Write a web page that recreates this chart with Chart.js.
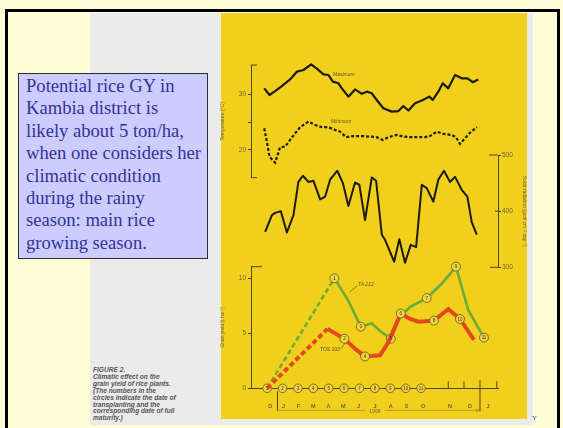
<!DOCTYPE html>
<html>
<head>
<meta charset="utf-8">
<script src="https://cdn.jsdelivr.net/npm/chart.js@4.4.1/dist/chart.umd.min.js"></script>
<style>
  body { margin: 0; width: 563px; height: 428px; background: #FFFFD7; position: relative; overflow: hidden; }
  #frame { position: absolute; left: 5px; top: 9px; width: 549px; height: 440px; border: 3px solid #000; }
  #scan { position: absolute; left: 90px; top: 13px; width: 443px; height: 412px; background: #EBEBEB; }
  #plate { position: absolute; left: 221px; top: 13px; width: 306px; height: 406px; background: #F0D01A; }
  canvas { position: absolute; }
  #note {
    position: absolute; left: 18px; top: 73px; width: 181px; height: 177px;
    padding: 1px 0 6px 7px; background: #CCCCFF; border: 1px solid #2e2e2e;
    font-family: "Liberation Serif", "Times New Roman", serif; font-size: 18.6px; line-height: 22.4px;
    color: #333399; white-space: nowrap;
  }
  #caption {
    position: absolute; left: 93px; top: 367px;
    font-family: "Liberation Sans", Arial, sans-serif; font-size: 6.6px; line-height: 6.9px;
    font-weight: bold; font-style: italic; color: #555; white-space: nowrap;
  }
  #mark { position: absolute; left: 532px; top: 414px; font-family: "Liberation Serif", serif; font-size: 7px; color: #2255CC; }
</style>
</head>
<body>
<div id="frame"></div>
<div id="scan"></div>
<div id="plate"></div>
<canvas id="tempChart" width="300" height="135" style="left:220px; top:50px"></canvas>
<canvas id="solarChart" width="307" height="130" style="left:220px; top:145px"></canvas>
<canvas id="yieldChart" width="300" height="170" style="left:220px; top:255px"></canvas>
<div id="note">Potential rice GY in<br>Kambia district is<br>likely about 5 ton/ha,<br>when one considers her<br>climatic condition<br>during the rainy<br>season: main rice<br>growing season.</div>
<div id="caption">FIGURE 2.<br>Climatic effect on the<br>grain yield of rice plants.<br>(The numbers in the<br>circles indicate the date of<br>transplanting and the<br>corresponding date of full<br>maturity.)</div>
<div id="mark">Y</div>
<script>
// months counted from December 1967 (= 0)
const maxTempMonths = [-0.19, 0.15, 0.52, 0.95, 1.49, 1.93, 2.36, 2.86, 3.33, 3.66, 3.98, 4.27, 4.63, 4.85, 5.28, 5.71, 6.15, 6.47, 6.80, 7.12, 7.55, 8.10, 8.53, 8.85, 9.18, 9.61, 10.05, 10.54, 10.76, 11.12, 11.41, 11.77, 12.21, 12.64, 13.01, 13.36, 13.72];
const maxTemp = [31.1, 29.9, 30.6, 31.5, 32.7, 34.1, 34.4, 35.4, 34.4, 33.6, 33.5, 32.3, 32.0, 31.1, 29.6, 30.9, 30.1, 30.5, 30.2, 29.0, 27.5, 26.9, 27.0, 27.9, 27.1, 28.4, 28.9, 29.6, 29.0, 30.5, 32.0, 31.1, 33.5, 32.9, 32.9, 32.2, 32.7];

const minTempMonths = [-0.19, -0.02, 0.15, 0.52, 0.84, 1.17, 1.49, 1.82, 2.14, 2.68, 3.12, 3.55, 3.98, 4.42, 4.74, 5.13, 5.60, 6.15, 6.69, 7.12, 7.51, 7.88, 8.42, 8.85, 9.29, 9.72, 10.26, 10.58, 11.02, 11.45, 11.99, 12.27, 12.53, 12.86, 13.18, 13.62];
const minTemp = [23.9, 21.5, 18.8, 17.7, 20.5, 20.6, 21.8, 23.0, 24.1, 25.1, 24.5, 24.1, 24.1, 23.6, 23.3, 22.3, 22.5, 22.5, 22.4, 22.3, 21.8, 22.3, 22.7, 22.4, 22.3, 22.3, 22.3, 22.5, 23.3, 22.9, 22.7, 22.3, 21.1, 22.1, 23.1, 24.1];

const solarMonths = [-0.13, 0.31, 0.52, 0.89, 1.28, 1.71, 2.03, 2.32, 2.68, 3.01, 3.44, 3.77, 4.09, 4.56, 4.92, 5.28, 5.71, 5.99, 6.36, 6.80, 7.08, 7.45, 7.66, 8.25, 8.59, 8.96, 9.33, 9.68, 10.05, 10.37, 10.80, 11.12, 11.49, 11.88, 12.21, 12.64, 13.01, 13.29, 13.62];
const solar = [363, 393, 397, 400, 362, 393, 452, 463, 452, 454, 421, 426, 456, 472, 450, 409, 451, 447, 384, 460, 454, 358, 349, 310, 350, 308, 340, 336, 447, 441, 417, 456, 472, 452, 461, 438, 426, 381, 358];

const ta212Months = [0, 4.37, 5.26, 6.08, 6.80, 7.34, 8.03, 8.64, 9.29, 10.37, 11.34, 12.27, 13.07, 14.09];
const ta212Yield = [0, 10.0, 8.0, 5.6, 5.9, 5.2, 4.5, 6.5, 7.4, 8.2, 9.5, 11.05, 7.1, 4.6];
const ta212Tags = [null, 1, null, 3, null, null, 5, null, null, 7, null, 9, null, 11];

const tos103Months = [0, 3.92, 5.02, 5.71, 6.36, 7.34, 7.88, 8.68, 9.29, 9.82, 10.84, 11.77, 12.53, 13.44];
const tos103Yield = [0, 5.4, 4.5, 3.6, 2.9, 3.0, 4.2, 6.8, 6.3, 6.05, 6.15, 7.2, 6.3, 4.4];
const tos103Tags = [null, null, 2, null, 4, null, null, 6, null, null, 8, null, 10, null];

const transplantMonths = [0, 1, 2, 3, 4, 5, 6, 7, 8, 9, 10];
const transplantTags = [1, 2, 3, 4, 5, 6, 7, 8, 9, 10, 11];

const monthTicks = [0.2, 1.06, 2.03, 3.0, 3.98, 4.95, 5.93, 7.01, 8.03, 9.06, 10.13, 11.88, 13.18, 14.35];
const monthLabels = ['D', 'J', 'F', 'M', 'A', 'M', 'J', 'J', 'A', 'S', 'O', 'N', 'D', 'J'];
const yearBoundMonths = [0.67, 13.83];
const yearTickMonths = [11.77, 12.79, 14.92];

const tempTicks = [20, 25, 30];
const solarTicks = [300, 400, 500];
const yieldTicks = [0, 5, 10];

const inkColor = '#1c1a12';
const axisColor = '#4a4530';
const tickColor = '#6e6440';
const xRange = { min: -1.05, max: 15 };

const pts = (xs, ys) => xs.map((x, i) => ({ x: x, y: ys[i] }));

// brackets, small notes, numbers in circles and the year marks under the months
const figureMarks = {
  id: 'figureMarks',
  afterDatasetsDraw(chart, args, opts) {
    const { ctx, scales: { x, y } } = chart;
    ctx.save();
    ctx.strokeStyle = axisColor;
    ctx.lineWidth = 1;
    const edge = y.position === 'left' ? y.right : y.left;
    const dir = y.position === 'left' ? 1 : -1;
    (opts.caps || []).forEach(c => {
      const py = c.at === 'top' ? y.top : y.bottom;
      ctx.beginPath();
      ctx.moveTo(edge, py);
      ctx.lineTo(edge + dir * c.len, py);
      ctx.stroke();
    });
    (opts.inTicks || []).forEach(v => {
      const py = y.getPixelForValue(v);
      ctx.beginPath();
      ctx.moveTo(edge, py);
      ctx.lineTo(edge + dir * 3, py);
      ctx.stroke();
    });

    ctx.font = 'italic 5px "Liberation Sans", Arial, sans-serif';
    ctx.fillStyle = '#5a5030';
    ctx.textBaseline = 'middle';
    ctx.textAlign = 'left';
    (opts.notes || []).forEach(n => {
      const px = x.getPixelForValue(n.x), py = y.getPixelForValue(n.y);
      ctx.fillText(n.text, px, py);
      if (n.lead) {
        ctx.strokeStyle = '#5a5030';
        ctx.lineWidth = 0.7;
        ctx.beginPath();
        ctx.moveTo(x.getPixelForValue(n.lead[0]), y.getPixelForValue(n.lead[1]));
        ctx.lineTo(x.getPixelForValue(n.lead[2]), y.getPixelForValue(n.lead[3]));
        ctx.stroke();
      }
    });

    ctx.font = '4.5px "Liberation Sans", Arial, sans-serif';
    ctx.fillStyle = '#3a3626';
    ctx.textAlign = 'center';
    chart.data.datasets.forEach((ds, i) => {
      if (!ds.tags) return;
      chart.getDatasetMeta(i).data.forEach((pt, j) => {
        if (ds.tags[j] == null) return;
        ctx.fillText(String(ds.tags[j]), pt.x, pt.y + 0.3);
      });
    });

    if (opts.year) {
      const base = y.bottom;
      ctx.strokeStyle = axisColor;
      ctx.lineWidth = 1;
      opts.year.ticks.forEach(m => {
        const px = x.getPixelForValue(m);
        ctx.beginPath(); ctx.moveTo(px, base); ctx.lineTo(px, base - 7); ctx.stroke();
      });
      opts.year.bounds.forEach((m, k) => {
        const px = x.getPixelForValue(m);
        ctx.beginPath(); ctx.moveTo(px, k === 0 ? base + 3 : base - 8); ctx.lineTo(px, base + 23); ctx.stroke();
      });
      const x0 = x.getPixelForValue(opts.year.bounds[0]);
      const x1 = x.getPixelForValue(opts.year.bounds[1]);
      const xm = x.getPixelForValue(opts.year.at);
      const ly = base + 22;
      ctx.strokeStyle = '#8a7c40';
      ctx.lineWidth = 0.6;
      ctx.beginPath();
      ctx.moveTo(x0, ly); ctx.lineTo(xm - 10, ly);
      ctx.moveTo(xm + 10, ly); ctx.lineTo(x1, ly);
      ctx.moveTo(x1 - 4, ly - 1.5); ctx.lineTo(x1, ly); ctx.lineTo(x1 - 4, ly + 1.5);
      ctx.stroke();
      ctx.font = '5px "Liberation Sans", Arial, sans-serif';
      ctx.fillStyle = tickColor;
      ctx.fillText(opts.year.label, xm, ly + 1);
    }
    ctx.restore();
  }
};

const fixedWidth = w => s => { s.width = w; };
const tickList = list => s => { s.ticks = list.map(v => ({ value: v })); };
const smallFont = { family: '"Liberation Sans", Arial, sans-serif', size: 6.5 };
const titleFont = { family: '"Liberation Sans", Arial, sans-serif', size: 5 };

// Temperature: maximum (solid) and minimum (dashed)
new Chart(document.getElementById('tempChart'), {
  type: 'line',
  data: {
    datasets: [
      { data: pts(maxTempMonths, maxTemp), borderColor: inkColor, borderWidth: 2.2, pointRadius: 0, borderJoinStyle: 'round' },
      { data: pts(minTempMonths, minTemp), borderColor: inkColor, borderWidth: 2.2, borderDash: [3, 2], pointRadius: 0 }
    ]
  },
  options: {
    responsive: false, animation: false, events: [], clip: false,
    layout: { padding: { top: 15, bottom: 7.3, right: 22, left: 0 } },
    plugins: {
      legend: { display: false }, tooltip: { enabled: false },
      figureMarks: {
        caps: [{ at: 'top', len: 6 }, { at: 'bottom', len: 6 }],
        notes: [{ text: 'Maximum', x: 4.28, y: 33.6 }, { text: 'Minimum', x: 4.15, y: 25.1 }]
      }
    },
    scales: {
      x: { type: 'linear', display: false, min: xRange.min, max: xRange.max },
      y: {
        min: 15, max: 35.3,
        afterBuildTicks: tickList(tempTicks), afterFit: fixedWidth(31),
        ticks: { callback: v => (v === 25 ? '' : v), font: smallFont, color: tickColor, padding: 2 },
        grid: { drawOnChartArea: false, tickLength: 3, color: axisColor },
        border: { color: axisColor, width: 1 },
        title: { display: true, text: 'Temperature (°C)', font: titleFont, color: tickColor, padding: 0 }
      }
    }
  },
  plugins: [figureMarks]
});

// Solar radiation
new Chart(document.getElementById('solarChart'), {
  type: 'line',
  data: {
    datasets: [
      { data: pts(solarMonths, solar), borderColor: inkColor, borderWidth: 2, pointRadius: 0, borderJoinStyle: 'round' }
    ]
  },
  options: {
    responsive: false, animation: false, events: [], clip: false,
    layout: { padding: { top: 10, bottom: 7.7, right: 0, left: 31 } },
    plugins: {
      legend: { display: false }, tooltip: { enabled: false },
      figureMarks: { caps: [{ at: 'top', len: 9 }, { at: 'bottom', len: 8 }], inTicks: [400] }
    },
    scales: {
      x: { type: 'linear', display: false, min: xRange.min, max: xRange.max },
      y: {
        position: 'right', min: 300, max: 500,
        afterBuildTicks: tickList(solarTicks), afterFit: fixedWidth(29),
        ticks: { font: smallFont, color: tickColor, padding: 1 },
        grid: { drawOnChartArea: false, tickLength: 3, color: axisColor },
        border: { color: axisColor, width: 1 },
        title: { display: true, text: 'Solar radiation (gcal cm⁻² day⁻¹)', font: titleFont, color: tickColor, padding: 0 }
      }
    }
  },
  plugins: [figureMarks]
});

// Grain yield of the two varieties against date of maturity
const firstLegDashed = dash => ({ borderDash: c => (c.p0DataIndex === 0 ? dash : undefined) });
new Chart(document.getElementById('yieldChart'), {
  type: 'line',
  data: {
    datasets: [
      {
        data: pts(tos103Months, tos103Yield), tags: tos103Tags, order: 0,
        borderColor: '#E5461E', borderWidth: 4, segment: firstLegDashed([5, 3]),
        pointRadius: tos103Tags.map(t => (t == null ? 0 : 4.5)),
        pointBackgroundColor: '#F2D43A', pointBorderColor: '#5a5238', pointBorderWidth: 0.8
      },
      {
        data: pts(ta212Months, ta212Yield), tags: ta212Tags, order: 1,
        borderColor: '#6DAA3C', borderWidth: 2.6, segment: firstLegDashed([5, 3]),
        pointRadius: ta212Tags.map(t => (t == null ? 0 : 4.5)),
        pointBackgroundColor: '#F2D43A', pointBorderColor: '#5a5238', pointBorderWidth: 0.8
      },
      {
        data: pts(transplantMonths, transplantMonths.map(() => 0)), tags: transplantTags, order: 2,
        showLine: false, pointRadius: 4.3,
        pointBackgroundColor: '#F2D43A', pointBorderColor: '#5a5238', pointBorderWidth: 0.8
      }
    ]
  },
  options: {
    responsive: false, animation: false, events: [], clip: false,
    layout: { padding: { top: 11.7, bottom: 0, right: 22, left: 0 } },
    plugins: {
      legend: { display: false }, tooltip: { enabled: false },
      figureMarks: {
        caps: [{ at: 'top', len: 11 }],
        notes: [
          { text: 'TA 212', x: 5.9, y: 9.39, lead: [5.38, 8.78, 5.85, 9.3] },
          { text: 'TOS 103', x: 3.43, y: 3.55, lead: [4.8, 3.6, 5.05, 4.1] }
        ],
        year: { bounds: yearBoundMonths, ticks: yearTickMonths, label: '1968', at: 7.0 }
      }
    },
    scales: {
      x: {
        type: 'linear', min: xRange.min, max: xRange.max,
        afterBuildTicks: tickList(monthTicks),
        afterFit: s => { s.height = 36.7; },
        ticks: { callback: (v, i) => monthLabels[i], autoSkip: false, maxRotation: 0, font: { family: '"Liberation Sans", Arial, sans-serif', size: 5.5, weight: 'bold' }, color: tickColor, padding: 7 },
        grid: { display: false },
        border: { color: axisColor, width: 1 }
      },
      y: {
        min: 0, max: 11.05,
        afterBuildTicks: tickList(yieldTicks), afterFit: fixedWidth(31),
        ticks: { font: smallFont, color: tickColor, padding: 2 },
        grid: { drawOnChartArea: false, tickLength: 3, color: axisColor },
        border: { color: axisColor, width: 1 },
        title: { display: true, text: 'Grain yield (t ha⁻¹)', font: titleFont, color: tickColor, padding: 0 }
      }
    }
  },
  plugins: [figureMarks]
});
</script>
</body>
</html>
